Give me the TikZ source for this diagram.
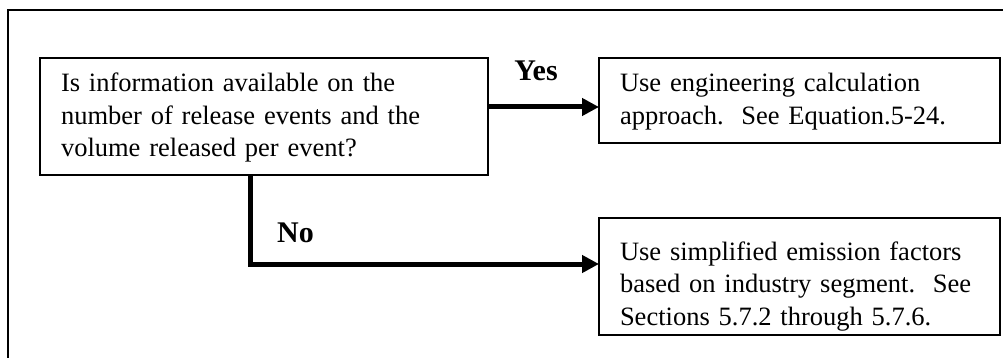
\documentclass[tikz,border=0pt]{standalone}
\usepackage{fontspec}
\setmainfont{Liberation Serif}
\usetikzlibrary{arrows.meta}
\begin{document}
\begin{tikzpicture}[x=1pt,y=-1pt,
  frame/.style={line width=2pt},
  box/.style={draw,line width=1.5pt,anchor=north west,outer sep=0pt,
    align=left,inner xsep=21pt,inner ysep=0pt,
    font=\fontsize{26.5}{32.5}\selectfont},
  flow/.style={line width=5pt,-{Triangle[length=17pt,width=17pt]}},
  answer/.style={anchor=base,inner sep=0pt,font=\fontsize{30}{32}\selectfont\bfseries}]
  \useasboundingbox (0,0) rectangle (1003,358);
  % page frame, cut off at the right and bottom
  \draw[frame] (8,358) -- (8,10) -- (1003,10);
  % decision and outcome boxes: text height = top edge to first baseline,
  % text depth = first baseline to bottom edge
  \node[box,text width=406pt,text height=34pt,text depth=83pt] (q) at (40,58)
    {Is information available on the\\ number of release events and the\\ volume released per event?};
  \node[box,text width=359pt,text height=34pt,text depth=51pt] (eng) at (599,58)
    {Use engineering calculation\\ approach.\ \ See Equation.5-24.};
  \node[box,text width=359pt,text height=42pt,text depth=75pt] (ef) at (599,218)
    {Use simplified emission factors\\ based on industry segment.\ \ See\\ Sections 5.7.2 through 5.7.6.};
  % connectors
  \coordinate (yrow) at (0,107);
  \coordinate (nbend) at (250,264);
  \draw[flow] (q.east |- yrow) -- (eng.west |- yrow);
  \draw[flow] (q.south -| nbend) |- (ef.west |- nbend);
  \node[answer] (yes) at (536,81) {Yes};
  \node[answer] (no) at (295.5,242) {No};
\end{tikzpicture}
\end{document}
